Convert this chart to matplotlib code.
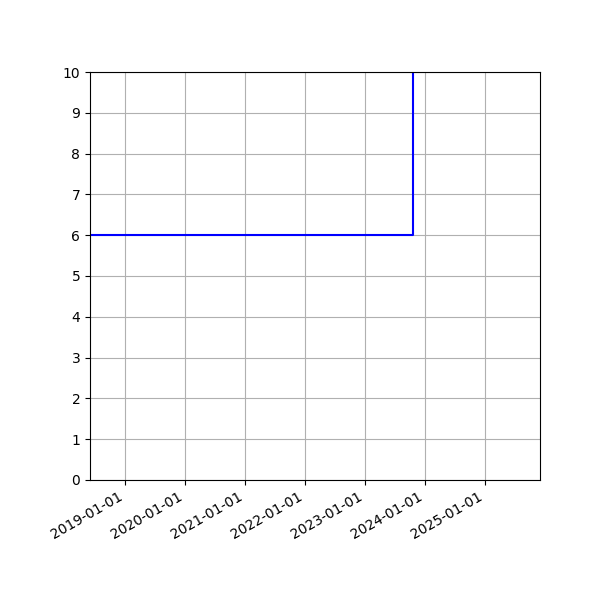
import matplotlib
matplotlib.use('Agg')
import matplotlib.pyplot as plt
import matplotlib.dates as mdates
from datetime import datetime

# step dates and values
dates = [datetime(2018, 6, 1), datetime(2023, 10, 20), datetime(2025, 12, 1)]
values = [6, 12, 12]

x_start = datetime(2018, 6, 1)
x_end = datetime(2025, 12, 1)

fig, ax = plt.subplots(figsize=(6, 6), dpi=100)
ax.step(dates, values, where='post', color='blue')
ax.set_xlim(x_start, x_end)
ax.set_ylim(0, 10)
ax.set_yticks(range(0, 11))
ax.xaxis.set_major_locator(mdates.YearLocator())
ax.xaxis.set_major_formatter(mdates.DateFormatter('%Y-%m-%d'))
ax.grid(True)
fig.autofmt_xdate()
fig.subplots_adjust(left=0.15, right=0.9, top=0.88, bottom=0.2)
fig.savefig('out.png', dpi=100)
